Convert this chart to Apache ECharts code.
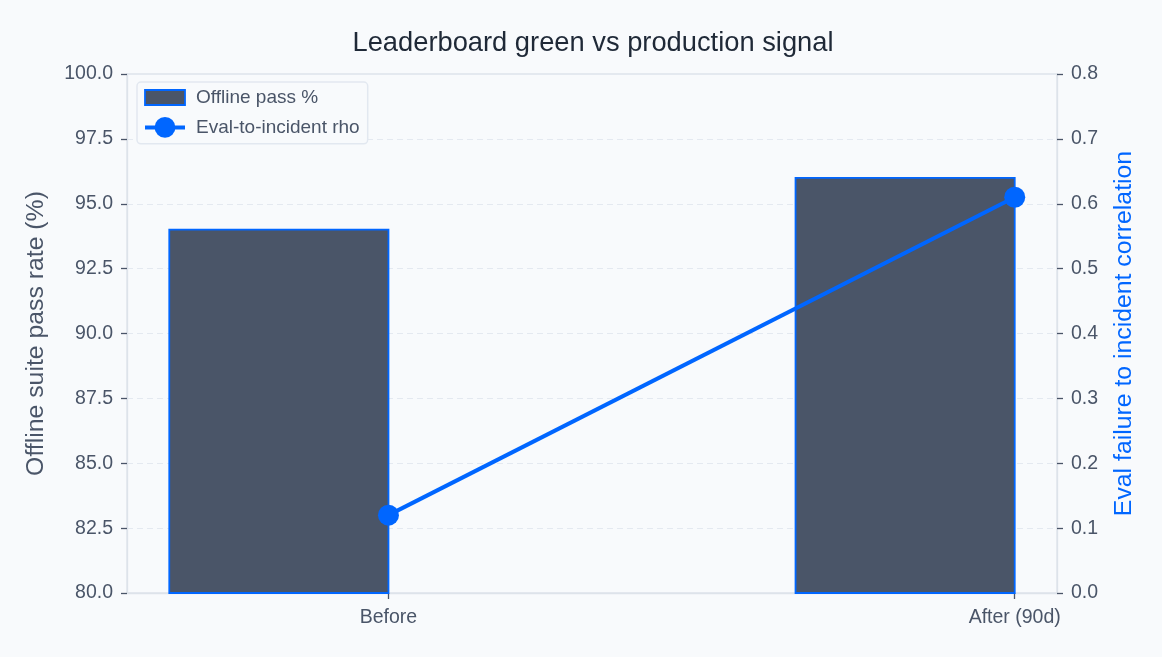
<!DOCTYPE html>
<html>
<head>
<meta charset="utf-8">
<script src="https://cdn.jsdelivr.net/npm/echarts@6/dist/echarts.min.js"></script>
<style>
html,body{margin:0;padding:0;background:#f8fafc;}
#chart{width:1162px;height:657px;}
</style>
</head>
<body>
<div id="chart"></div>
<script>
const categories = ['Before', 'After (90d)'];
const passRate = [94.0, 96.0];
const rho = [0.12, 0.61];
const leftAxisRange = [80, 100, 2.5];
const rightAxisRange = [0, 0.8, 0.1];
const barWidthUnits = 0.35;

const FONT = '"Liberation Sans", Arial, Helvetica, sans-serif';
const BLUE = '#0066ff';
const SLATE = '#4a5568';
const SPINE = '#dde3ea';

const chart = echarts.init(document.getElementById('chart'), null, {renderer: 'canvas'});

const barData = passRate.map((v, i) => [i, v]);
const lineData = rho.map((v, i) => [i, v]);

const option = {
  backgroundColor: '#f8fafc',
  textStyle: {fontFamily: FONT},
  animation: false,
  title: {
    text: 'Leaderboard green vs production signal',
    left: 588,
    textAlign: 'center',
    top: 25,
    textStyle: {fontFamily: FONT, fontSize: 27.3, fontWeight: 'normal', color: '#1f2937'}
  },
  legend: {
    left: 137,
    top: 82,
    orient: 'vertical',
    padding: [6, 8, 6, 6],
    itemGap: 10,
    itemWidth: 40,
    itemHeight: 26,
    backgroundColor: '#f8fafc',
    borderColor: '#e2e8f0',
    borderWidth: 1.5,
    borderRadius: 4,
    textStyle: {fontFamily: FONT, fontSize: 19, color: SLATE, padding: [0, 0, 0, 6]},
    data: [
      {name: 'Offline pass %', icon: 'path://M0,0L40,0L40,15L0,15Z',
       itemStyle: {color: SLATE, borderColor: BLUE, borderWidth: 1.8}},
      {name: 'Eval-to-incident rho', lineStyle: {width: 4, color: BLUE}}
    ]
  },
  grid: {
    left: 127, right: 105, top: 74, bottom: 64,
    show: true, borderColor: SPINE, borderWidth: 1.3, backgroundColor: 'transparent'
  },
  xAxis: {
    type: 'value',
    min: -0.4175,
    max: 1.0675,
    splitLine: {show: false},
    axisLine: {show: true, onZero: false, lineStyle: {color: SPINE, width: 1.3}},
    axisTick: {show: true, customValues: [0, 1], length: 6, lineStyle: {color: SLATE, width: 1.3}},
    axisLabel: {
      customValues: [0, 1],
      margin: 15,
      fontFamily: FONT, fontSize: 19.5, color: SLATE,
      formatter: v => categories[Math.round(v)]
    }
  },
  yAxis: [
    {
      type: 'value',
      min: leftAxisRange[0], max: leftAxisRange[1], interval: leftAxisRange[2],
      name: 'Offline suite pass rate (%)',
      nameLocation: 'middle',
      nameGap: 78,
      nameTextStyle: {fontFamily: FONT, fontSize: 24.8, color: SLATE},
      axisLine: {show: true, onZero: false, lineStyle: {color: SPINE, width: 1.3}},
      axisTick: {show: true, length: 6, lineStyle: {color: SLATE, width: 1.3}},
      axisLabel: {margin: 14, fontFamily: FONT, fontSize: 19.5, color: SLATE, formatter: v => v.toFixed(1)},
      splitLine: {show: true, lineStyle: {color: '#e4e9f0', type: [6, 4], width: 1.2}}
    },
    {
      type: 'value',
      min: rightAxisRange[0], max: rightAxisRange[1], interval: rightAxisRange[2],
      position: 'right',
      name: 'Eval failure to incident correlation',
      nameLocation: 'middle',
      nameGap: 55,
      nameRotate: 90,
      nameTextStyle: {fontFamily: FONT, fontSize: 24.8, color: BLUE},
      axisLine: {show: true, onZero: false, lineStyle: {color: SPINE, width: 1.3}},
      axisTick: {show: true, length: 6, lineStyle: {color: SLATE, width: 1.3}},
      axisLabel: {margin: 14, fontFamily: FONT, fontSize: 19.5, color: SLATE, formatter: v => v.toFixed(1)},
      splitLine: {show: false}
    }
  ],
  series: [
    {
      name: 'Offline pass %',
      type: 'custom',
      xAxisIndex: 0,
      yAxisIndex: 0,
      z: 2,
      itemStyle: {color: SLATE, borderColor: BLUE, borderWidth: 1.8},
      renderItem: function (params, api) {
        const x = api.value(0);
        const v = api.value(1);
        const topLeft = api.coord([x - barWidthUnits, v]);
        const bottomRight = api.coord([x, leftAxisRange[0]]);
        return {
          type: 'rect',
          shape: {
            x: topLeft[0], y: topLeft[1],
            width: bottomRight[0] - topLeft[0],
            height: bottomRight[1] - topLeft[1]
          },
          style: {fill: SLATE, stroke: BLUE, lineWidth: 1.8}
        };
      },
      encode: {x: 0, y: 1},
      data: barData
    },
    {
      name: 'Eval-to-incident rho',
      type: 'line',
      xAxisIndex: 0,
      yAxisIndex: 1,
      z: 5,
      symbol: 'circle',
      symbolSize: 21,
      itemStyle: {color: BLUE},
      lineStyle: {color: BLUE, width: 4},
      data: lineData
    }
  ]
};
chart.setOption(option);
</script>
</body>
</html>
